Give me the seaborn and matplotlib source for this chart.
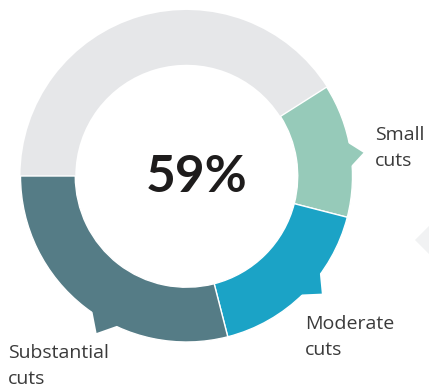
import numpy as np
import matplotlib
matplotlib.use("Agg")
import matplotlib.pyplot as plt
from matplotlib.patches import Polygon
import seaborn as sns

sns.set_theme(style="white")
plt.rcParams['font.family'] = ['Lato', 'DejaVu Sans']

# Data
categories = ["Other", "Small cuts", "Moderate cuts", "Substantial cuts"]
values = [41, 13, 17, 29]
colors = ["#e6e7e9", "#96cab9", "#1ba3c6", "#557c86"]
center_label = "59%"
label_texts = {"Small cuts": "Small\ncuts", "Moderate cuts": "Moderate\ncuts",
               "Substantial cuts": "Substantial\ncuts"}

W, H = 429, 387
fig = plt.figure(figsize=(W / 100, H / 100), dpi=100)
ax = fig.add_axes([0, 0, 1, 1])
cx, cy, R = 186.5, 176, 166.0

wedges, _ = ax.pie(values, colors=colors, startangle=180, counterclock=False,
                   radius=1.0, wedgeprops=dict(width=0.33, edgecolor='white', linewidth=1.0))
wedges[0].set_edgecolor(colors[0])
wedges[0].set_linewidth(0)

ax.set_xlim(-cx / R, (W - cx) / R)
ax.set_ylim(-(H - cy) / R, cy / R)
ax.set_aspect('equal')
ax.axis('off')

# pointer notches on outer edge (tip radius, angle offset from wedge mid, half width deg)
pointer_cfg = {"Small cuts": (1.075, -1.5, 4.5),
               "Moderate cuts": (1.08, 4, 5.5),
               "Substantial cuts": (1.09, 8, 5.5)}
for name, (rt, off, half) in pointer_cfg.items():
    i = categories.index(name)
    w = wedges[i]
    mid = (w.theta1 + w.theta2) / 2 + off
    a1, a2 = np.radians(mid - half), np.radians(mid + half)
    at = np.radians(mid)
    pts = [(0.985 * np.cos(a1), 0.985 * np.sin(a1)),
           (rt * np.cos(at), rt * np.sin(at)),
           (0.985 * np.cos(a2), 0.985 * np.sin(a2))]
    ax.add_patch(Polygon(pts, closed=True, color=colors[i], lw=0))

# faint decorative diamond at right edge
dcx, dcy, dr = (432 - cx) / R, -(240 - cy) / R, 17 / R
ax.add_patch(Polygon([(dcx - dr, dcy), (dcx, dcy + dr), (dcx + dr, dcy), (dcx, dcy - dr)],
                     closed=True, color="#f1f2f3", lw=0))

ax.text((197 - cx) / R, -(178 - cy) / R, center_label, ha='center', va='center',
        fontsize=37, fontweight='bold', color='#1e1c1c')

label_pos = {"Small cuts": (375, 148), "Moderate cuts": (305, 337), "Substantial cuts": (8, 366)}
for name, (px, py) in label_pos.items():
    ax.text((px - cx) / R, -(py - cy) / R, label_texts[name], ha='left', va='center',
            fontsize=14, color='#3a3a3a', linespacing=1.6,
            family=['Open Sans', 'DejaVu Sans'])

fig.savefig("out.png", dpi=100)
